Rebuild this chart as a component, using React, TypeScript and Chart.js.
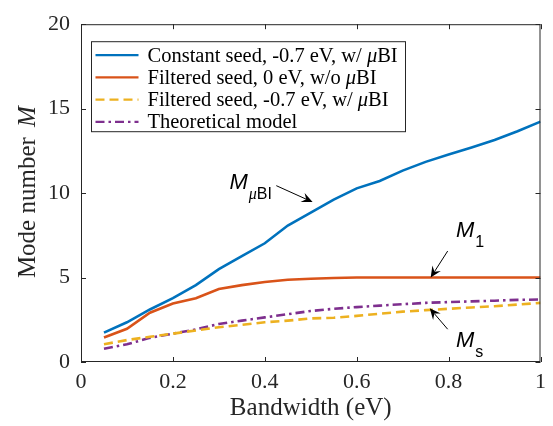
import React, { useEffect, useRef } from "react";
import { Chart, registerables } from "chart.js";

Chart.register(...registerables);

// ---- data ----
const bandwidth = [0.05, 0.1, 0.15, 0.2, 0.25, 0.3, 0.35, 0.4, 0.45, 0.5, 0.55, 0.6, 0.65, 0.7, 0.75, 0.8, 0.85, 0.9, 0.95, 1.0];
const constantSeed = [1.74, 2.35, 3.11, 3.78, 4.55, 5.5, 6.27, 7.03, 8.08, 8.84, 9.61, 10.28, 10.72, 11.33, 11.85, 12.28, 12.7, 13.14, 13.66, 14.23];
const filteredSeedZero = [1.45, 1.97, 2.92, 3.46, 3.78, 4.32, 4.55, 4.74, 4.87, 4.93, 4.97, 5.0, 5.0, 5.0, 5.0, 5.0, 5.0, 5.0, 5.0, 5.0];
const filteredSeedNeg = [1.05, 1.3, 1.49, 1.68, 1.87, 2.06, 2.2, 2.35, 2.45, 2.58, 2.62, 2.73, 2.86, 2.98, 3.07, 3.15, 3.23, 3.3, 3.4, 3.5];
const theoreticalModel = [0.79, 1.05, 1.43, 1.68, 1.93, 2.25, 2.45, 2.64, 2.83, 3.02, 3.15, 3.25, 3.34, 3.42, 3.5, 3.55, 3.59, 3.63, 3.68, 3.7];
const seriesLabels = [
  "Constant seed, -0.7 eV, w/ μBI",
  "Filtered seed, 0 eV, w/o μBI",
  "Filtered seed, -0.7 eV, w/ μBI",
  "Theoretical model",
];
const xTicks = [0, 0.2, 0.4, 0.6, 0.8, 1];
const yTicks = [0, 5, 10, 15, 20];
const xTitle = "Bandwidth (eV)";
const yTitle = "Mode number ";
const yTitleItalic = "M";

// annotations (data coordinates)
const annotationLabels = [
  { main: "M", sub: "μBI", x: 0.323, y: 10.23, ax: 0.425, ay: 10.44, tx: 0.504, ty: 9.47 },
  { main: "M", sub: "1", x: 0.816, y: 7.43, ax: 0.798, ay: 6.57, tx: 0.761, ty: 5.0 },
  { main: "M", sub: "s", x: 0.816, y: 0.86, ax: 0.798, ay: 1.94, tx: 0.759, ty: 3.18 },
];

// ---- styles ----
const seriesColors = ["#0072BD", "#D95319", "#EDB120", "#7E2F8E"];
const seriesDashes = [[], [], [9, 5], [9, 4, 2.5, 4]];
const AXIS_COLOR = "#262626";
const SERIF = "'Liberation Serif', 'Times New Roman', serif";
const SANS = "'Liberation Sans', Arial, sans-serif";

function drawMixed(ctx: CanvasRenderingContext2D, text: string, x: number, y: number, size: number) {
  const parts = text.split("μ");
  let cx = x;
  parts.forEach((p, i) => {
    if (i > 0) {
      ctx.font = `italic ${size}px ${SERIF}`;
      ctx.fillText("μ", cx, y);
      cx += ctx.measureText("μ").width;
    }
    ctx.font = `${size}px ${SERIF}`;
    ctx.fillText(p, cx, y);
    cx += ctx.measureText(p).width;
  });
}

const framePlugin = {
  id: "frame",
  afterDatasetsDraw(chart: any) {
    const { ctx, chartArea } = chart;
    const { left, right, top, bottom } = chartArea;
    const xs = chart.scales.x;
    const ys = chart.scales.y;
    ctx.save();
    ctx.strokeStyle = AXIS_COLOR;
    ctx.lineWidth = 1;
    ctx.strokeRect(left + 0.5, top + 0.5, right - left - 1, bottom - top - 1);
    const tl = 5;
    ctx.beginPath();
    xTicks.forEach((v) => {
      const px = Math.round(xs.getPixelForValue(v)) + 0.5;
      ctx.moveTo(px, bottom);
      ctx.lineTo(px, bottom - tl);
      ctx.moveTo(px, top);
      ctx.lineTo(px, top + tl);
    });
    yTicks.forEach((v) => {
      const py = Math.round(ys.getPixelForValue(v)) + 0.5;
      ctx.moveTo(left, py);
      ctx.lineTo(left + tl, py);
      ctx.moveTo(right, py);
      ctx.lineTo(right - tl, py);
    });
    ctx.stroke();

    // titles
    ctx.fillStyle = AXIS_COLOR;
    ctx.textBaseline = "alphabetic";
    ctx.textAlign = "left";
    ctx.font = `25px ${SERIF}`;
    const xw = ctx.measureText(xTitle).width;
    ctx.fillText(xTitle, (left + right) / 2 - xw / 2, 415);

    ctx.save();
    ctx.translate(35, (top + bottom) / 2 - 1);
    ctx.rotate(-Math.PI / 2);
    ctx.font = `25px ${SERIF}`;
    const w1 = ctx.measureText(yTitle).width;
    ctx.font = `italic 25px ${SERIF}`;
    const w2 = ctx.measureText(yTitleItalic).width;
    const sx = -(w1 + w2 + 4) / 2;
    ctx.font = `25px ${SERIF}`;
    ctx.fillText(yTitle, sx, 0);
    ctx.font = `italic 25px ${SERIF}`;
    ctx.fillText(yTitleItalic, sx + w1 + 4, 0);
    ctx.restore();
    ctx.restore();
  },
};

const annotationPlugin = {
  id: "annots",
  afterDatasetsDraw(chart: any) {
    const { ctx } = chart;
    const xs = chart.scales.x;
    const ys = chart.scales.y;
    ctx.save();
    ctx.fillStyle = "#000";
    ctx.strokeStyle = "#000";
    ctx.textBaseline = "alphabetic";
    ctx.textAlign = "left";
    annotationLabels.forEach((a) => {
      const px = xs.getPixelForValue(a.x);
      const py = ys.getPixelForValue(a.y);
      ctx.font = `italic 22px ${SANS}`;
      ctx.fillText(a.main, px, py);
      const mw = ctx.measureText(a.main).width;
      ctx.font = `16px ${SANS}`;
      let cx = px + mw + 1;
      const sy = py + 10;
      const subParts = a.sub.split("μ");
      subParts.forEach((p, i) => {
        if (i > 0) {
          ctx.font = `italic 16px ${SERIF}`;
          ctx.fillText("μ", cx, sy);
          cx += ctx.measureText("μ").width;
          ctx.font = `16px ${SANS}`;
        }
        ctx.fillText(p, cx, sy);
        cx += ctx.measureText(p).width;
      });
      // arrow
      const x0 = xs.getPixelForValue(a.ax);
      const y0 = ys.getPixelForValue(a.ay);
      const x1 = xs.getPixelForValue(a.tx);
      const y1 = ys.getPixelForValue(a.ty);
      const ang = Math.atan2(y1 - y0, x1 - x0);
      const L = 11;
      const W = 5;
      const back = 7;
      ctx.lineWidth = 1;
      ctx.beginPath();
      ctx.moveTo(x0, y0);
      ctx.lineTo(x1 - Math.cos(ang) * back, y1 - Math.sin(ang) * back);
      ctx.stroke();
      const bx = x1 - Math.cos(ang) * L;
      const by = y1 - Math.sin(ang) * L;
      const nx = -Math.sin(ang);
      const ny = Math.cos(ang);
      ctx.beginPath();
      ctx.moveTo(x1, y1);
      ctx.lineTo(bx + nx * W, by + ny * W);
      ctx.lineTo(x1 - Math.cos(ang) * back, y1 - Math.sin(ang) * back);
      ctx.lineTo(bx - nx * W, by - ny * W);
      ctx.closePath();
      ctx.fill();
    });
    ctx.restore();
  },
};

const legendPlugin = {
  id: "boxLegend",
  afterDraw(chart: any) {
    const { ctx, chartArea } = chart;
    const bx = chartArea.left + 10.5;
    const by = chartArea.top + 17.5;
    const bw = 314;
    const bh = 90;
    ctx.save();
    ctx.fillStyle = "#fff";
    ctx.fillRect(bx, by, bw, bh);
    ctx.strokeStyle = AXIS_COLOR;
    ctx.lineWidth = 1;
    ctx.strokeRect(bx, by, bw, bh);
    chart.data.datasets.forEach((ds: any, i: number) => {
      const cy = by + 13.5 + i * 22.2;
      ctx.strokeStyle = ds.borderColor;
      ctx.lineWidth = 2.2;
      ctx.setLineDash(ds.borderDash || []);
      ctx.beginPath();
      ctx.moveTo(bx + 4, cy);
      ctx.lineTo(bx + 47, cy);
      ctx.stroke();
      ctx.setLineDash([]);
      ctx.fillStyle = "#000";
      ctx.textBaseline = "middle";
      ctx.textAlign = "left";
      drawMixed(ctx, ds.label, bx + 56, cy + 1, 20.5);
    });
    ctx.restore();
  },
};

export default function App() {
  const ref = useRef<HTMLCanvasElement>(null);
  useEffect(() => {
    if (!ref.current) return;
    const series = [constantSeed, filteredSeedZero, filteredSeedNeg, theoreticalModel];
    const chart = new Chart(ref.current, {
      type: "line",
      data: {
        datasets: series.map((vals, i) => ({
          label: seriesLabels[i],
          data: bandwidth.map((x, j) => ({ x, y: vals[j] })),
          borderColor: seriesColors[i],
          borderDash: seriesDashes[i],
          borderWidth: 2.6,
          pointRadius: 0,
          fill: false,
          tension: 0,
        })),
      },
      options: {
        responsive: false,
        animation: false,
        events: [],
        layout: { padding: { left: 0, right: 11, top: 12, bottom: 0 } },
        plugins: { legend: { display: false }, tooltip: { enabled: false } },
        scales: {
          x: {
            type: "linear",
            min: 0,
            max: 1,
            afterBuildTicks: (s: any) => {
              s.ticks = xTicks.map((v) => ({ value: v }));
            },
            afterFit: (s: any) => {
              s.height = 64;
            },
            ticks: {
              callback: (v: any) => String(v),
              font: { family: SERIF, size: 22 },
              color: AXIS_COLOR,
              padding: 7,
              maxRotation: 0,
              autoSkip: false,
            },
            grid: { display: false, drawTicks: false },
            border: { display: false },
          },
          y: {
            type: "linear",
            min: 0,
            max: 20,
            afterBuildTicks: (s: any) => {
              s.ticks = yTicks.map((v) => ({ value: v }));
            },
            afterFit: (s: any) => {
              s.width = 81;
            },
            ticks: {
              callback: (v: any) => String(v),
              font: { family: SERIF, size: 22 },
              color: AXIS_COLOR,
              padding: 11,
              autoSkip: false,
            },
            grid: { display: false, drawTicks: false },
            border: { display: false },
          },
        },
      },
      plugins: [framePlugin, annotationPlugin, legendPlugin],
    } as any);
    return () => chart.destroy();
  }, []);
  return (
    <div style={{ position: "absolute", left: 0, top: 0, width: 553, height: 426, background: "#fff" }}>
      <canvas ref={ref} width={553} height={426} style={{ display: "block", width: 553, height: 426 }} />
    </div>
  );
}
